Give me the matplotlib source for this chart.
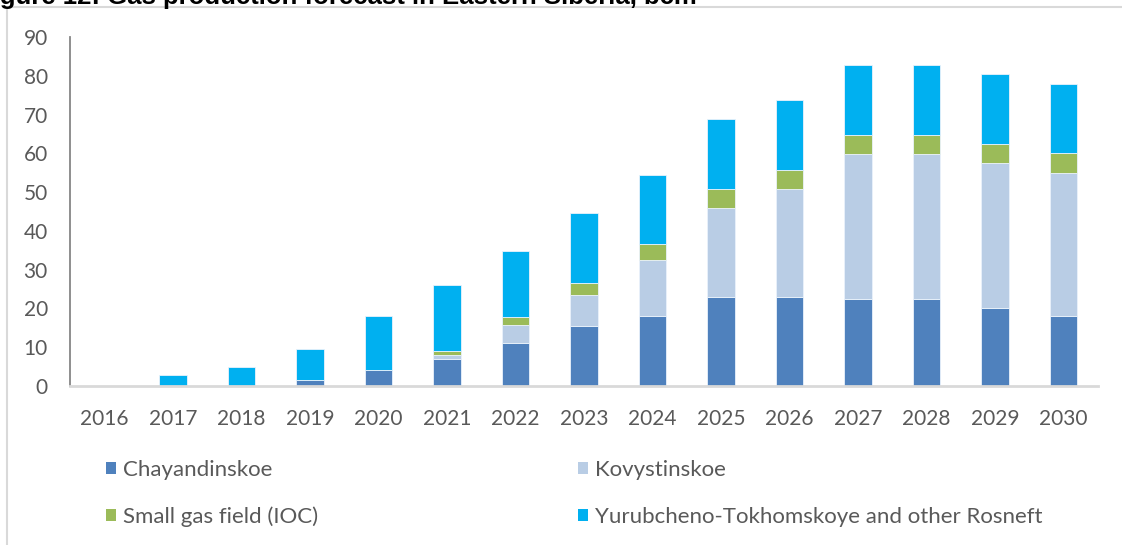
import matplotlib
matplotlib.use("Agg")
import matplotlib.pyplot as plt
from matplotlib.lines import Line2D
from matplotlib.patches import Patch
import numpy as np

years = ["2016", "2017", "2018", "2019", "2020", "2021", "2022", "2023",
         "2024", "2025", "2026", "2027", "2028", "2029", "2030"]
chayandinskoe = [0, 0, 0, 1.5, 4.0, 7.0, 11.0, 15.5, 18.0, 23.0, 23.0, 22.5, 22.5, 20.2, 18.0]
kovystinskoe = [0, 0, 0, 0, 0, 1.0, 4.7, 8.0, 14.5, 22.8, 27.8, 37.3, 37.2, 37.2, 37.0]
small_fields = [0, 0, 0, 0, 0, 1.0, 2.2, 3.0, 4.0, 5.0, 5.0, 5.0, 5.0, 5.0, 5.0]
yurubcheno = [0, 2.8, 4.8, 8.1, 14.1, 17.1, 17.0, 18.2, 18.0, 18.0, 18.0, 18.0, 18.0, 18.0, 18.0]

series_names = ["Chayandinskoe", "Kovystinskoe", "Small gas field (IOC)",
                "Yurubcheno-Tokhomskoye and other Rosneft"]
series_colors = ["#4F81BD", "#B9CDE5", "#9BBB59", "#00B0F0"]
series_values = [chayandinskoe, kovystinskoe, small_fields, yurubcheno]
yticks = [0, 10, 20, 30, 40, 50, 60, 70, 80, 90]

W, H = 1122, 545
fig = plt.figure(figsize=(W / 100, H / 100), dpi=100)
text_font = ["Lato", "DejaVu Sans"]
grey_text = "#595959"

ax = fig.add_axes([70 / W, (H - 386) / H, (1098 - 70) / W, (386 - 37) / H])
x = np.arange(len(years))
bottom = np.zeros(len(years))
for vals, col in zip(series_values, series_colors):
    v = np.array(vals, dtype=float)
    ax.bar(x, v, width=0.40, bottom=bottom, color=col,
           edgecolor="#EAF2FB", linewidth=0.6, zorder=2)
    bottom += v

ax.set_xlim(-0.5, len(years) - 0.5)
ax.set_ylim(0, 90)
ax.set_yticks(yticks)
ax.set_yticklabels([str(t) for t in yticks], fontsize=15, color=grey_text,
                   family=text_font)
ax.set_xticks(x)
ax.set_xticklabels(years, fontsize=15, color=grey_text, family=text_font)
ax.tick_params(axis="y", length=0, pad=16)
ax.tick_params(axis="x", length=0, pad=16.5)
for s in ["top", "right"]:
    ax.spines[s].set_visible(False)
ax.spines["left"].set_color("#868686")
ax.spines["left"].set_linewidth(1.3)
ax.spines["bottom"].set_color("#D9D9D9")
ax.spines["bottom"].set_linewidth(2.0)

# chart frame (left and top edges)
fig.add_artist(Line2D([7 / W, 7 / W], [0, 1 - 7 / H], transform=fig.transFigure,
                      color="#D9D9D9", linewidth=1.5))
fig.add_artist(Line2D([7 / W, 1], [1 - 7 / H, 1 - 7 / H], transform=fig.transFigure,
                      color="#D9D9D9", linewidth=1.5))

# title
fig.text(697 / W, 1 - 4 / H, "Figure 12: Gas production forecast in Eastern Siberia, bcm",
         ha="right", va="baseline", fontsize=18.5, fontweight="bold",
         family=["Liberation Sans", "DejaVu Sans"], color="black")

# legend, two columns
handles = [Patch(facecolor=c, edgecolor="none") for c in series_colors]
leg_kw = dict(frameon=False, handlelength=0.45, handleheight=0.45,
              handletextpad=0.3, labelspacing=1.2, borderpad=0, borderaxespad=0,
              labelcolor=grey_text, prop={"family": text_font, "size": 16})
leg1 = fig.legend([handles[0], handles[2]], [series_names[0], series_names[2]],
                  loc="upper left", bbox_to_anchor=(106 / W, 1 - 460 / H), **leg_kw)
leg2 = fig.legend([handles[1], handles[3]], [series_names[1], series_names[3]],
                  loc="upper left", bbox_to_anchor=(578 / W, 1 - 460 / H), **leg_kw)

fig.savefig("out.png", dpi=100)
